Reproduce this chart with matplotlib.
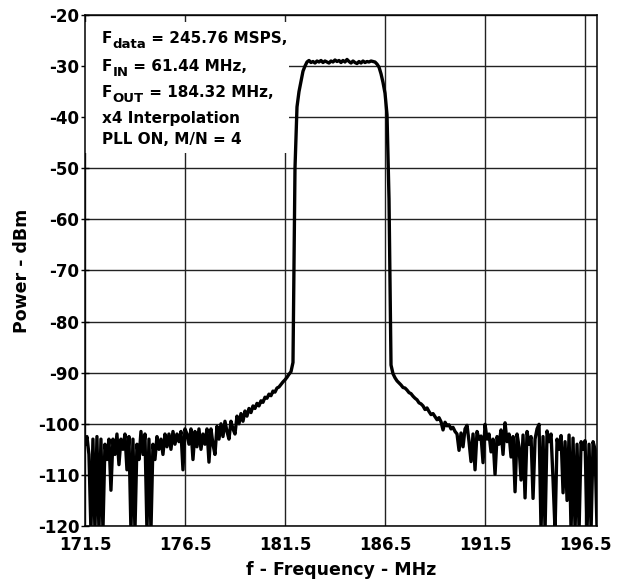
import numpy as np
import matplotlib
matplotlib.use('Agg')
import matplotlib.pyplot as plt
from matplotlib.patches import Rectangle
from matplotlib.transforms import IdentityTransform

plt.rcParams['font.family'] = ['DejaVu Sans']
plt.rcParams['font.weight'] = 'bold'
plt.rcParams['axes.unicode_minus'] = False

# frequency sweep, 0.1 MHz steps (171.5 .. 197.1 MHz)
freq = np.round(np.arange(171.5, 197.15, 0.1), 1)
# power, dBm (one row per MHz)
power = [
    -104, -102.5, -106, -121, -103, -121, -102.5, -121, -103, -121,
    -104, -107, -103, -113, -103, -106, -102, -108, -103, -105,
    -102, -109, -102.5, -121, -103, -121, -104, -107, -101.5, -106,
    -102, -121, -103, -121, -104, -107, -102.5, -105, -103, -106,
    -102, -104.5, -102, -105, -101.5, -104, -102, -103.5, -101.5, -109,
    -101, -102, -104, -101, -107, -101.5, -104.5, -101, -105, -102,
    -104, -101, -107.5, -101, -104, -106, -100.5, -103, -100, -102.5,
    -99.5, -101.5, -103, -99.5, -101, -102, -98.5, -100, -98, -99.5,
    -97.5, -98.5, -97, -97.8, -96.5, -97, -96, -96.5, -95.5, -95.8,
    -94.8, -95, -94.2, -94.5, -93.6, -93.8, -93, -92.8, -92.3, -91.8,
    -91.4, -90.9, -90.3, -89.8, -88, -50, -38, -35, -33, -31,
    -30, -29.2, -28.9, -29.3, -29.1, -29.4, -29.0, -29.2, -28.9, -29.3,
    -29.0, -29.2, -29.4, -29.0, -29.2, -28.8, -29.1, -28.9, -29.3, -28.9,
    -29.2, -28.7, -29.1, -29.4, -29.0, -29.3, -29.5, -29.1, -29.4, -29.0,
    -29.3, -29.1, -29.2, -29.0, -29.1, -29.2, -29.6, -30.2, -31.5, -33.2,
    -35.3, -39.5, -56, -88.5, -90.2, -91, -91.6, -92, -92.4, -92.9,
    -93.0, -93.4, -93.9, -94.1, -94.6, -95.0, -95.3, -95.9, -96.1, -96.5,
    -97.2, -96.9, -97.6, -98.2, -98.0, -98.6, -99.2, -98.8, -99.6, -101.2,
    -99.7, -100.4, -100.2, -101.0, -100.7, -101.5, -102.0, -105.2, -101.8, -104.5,
    -101.0, -100.3, -103.5, -107.4, -102.0, -109.0, -101.5, -103.0, -102.4, -107.6,
    -100.1, -103.0, -102.0, -105.5, -103.0, -109.9, -102.5, -104.0, -101.2, -106.0,
    -99.8, -103.5, -102.0, -106.5, -102.5, -113.3, -102.0, -104.5, -111.0, -102.2,
    -114.5, -101.5, -104.0, -102.5, -114.6, -103.0, -101.0, -100.1, -121, -102.5,
    -121, -101.4, -103.5, -102.0, -111.0, -121, -103.0, -105.0, -102.3, -113.5,
    -103.5, -115.0, -102.2, -121, -102.8, -121, -104.0, -121, -103.5, -105.0,
    -103.3, -121, -104.0, -121, -103.5, -105.0, -121,
]

xticks = [171.5, 176.5, 181.5, 186.5, 191.5, 196.5]
yticks = list(range(-120, -10, 10))

# note lines: (main, subscript, rest)
notes = [
    ('F', 'data', ' = 245.76 MSPS,'),
    ('F', 'IN', ' = 61.44 MHz,'),
    ('F', 'OUT', ' = 184.32 MHz,'),
    ('x4 Interpolation', '', ''),
    ('PLL ON, M/N = 4', '', ''),
]

fig = plt.figure(figsize=(6.2, 5.86), dpi=100)
ax = fig.add_axes([0.137, 0.1024, 0.826, 0.872])

ax.plot(freq, power, color='black', linewidth=2.4, zorder=3)

ax.set_xlim(171.5, 197.1)
ax.set_ylim(-120, -20)
ax.set_xticks(xticks)
ax.set_xticklabels([str(t) for t in xticks])
ax.set_yticks(yticks)
ax.set_axisbelow(True)
ax.grid(True, color='#222222', linewidth=1.0)
ax.tick_params(axis='x', labelsize=12, length=0, pad=7)
ax.tick_params(axis='y', labelsize=12, direction='inout', length=6, width=1.0, pad=1)
for s in ax.spines.values():
    s.set_linewidth(1.1)

# white area behind the notes hides the grid
ax.add_patch(Rectangle((171.5, -47), 10.2, 25.6, facecolor='white',
                       edgecolor='none', zorder=1))

ax.set_xlabel('f - Frequency - MHz', fontsize=12.5, fontweight='bold', labelpad=5)
ax.set_ylabel('Power - dBm', fontsize=12.5, fontweight='bold', labelpad=5)

# notes, drawn piece by piece so the subscripts stay bold and large
renderer = fig.canvas.get_renderer()
baselines = [543, 515, 489, 463, 442]   # figure pixels from bottom
for (main, sub, rest), yb in zip(notes, baselines):
    x = 102
    for txt, size, dy in ((main, 11, 0), (sub, 9.5, -5), (rest, 11, 0)):
        if not txt:
            continue
        t = fig.text(x, yb + dy, txt, transform=IdentityTransform(),
                     fontsize=size, fontweight='bold', va='baseline', ha='left',
                     zorder=5)
        x = t.get_window_extent(renderer).x1

fig.savefig('out.png', dpi=100)
